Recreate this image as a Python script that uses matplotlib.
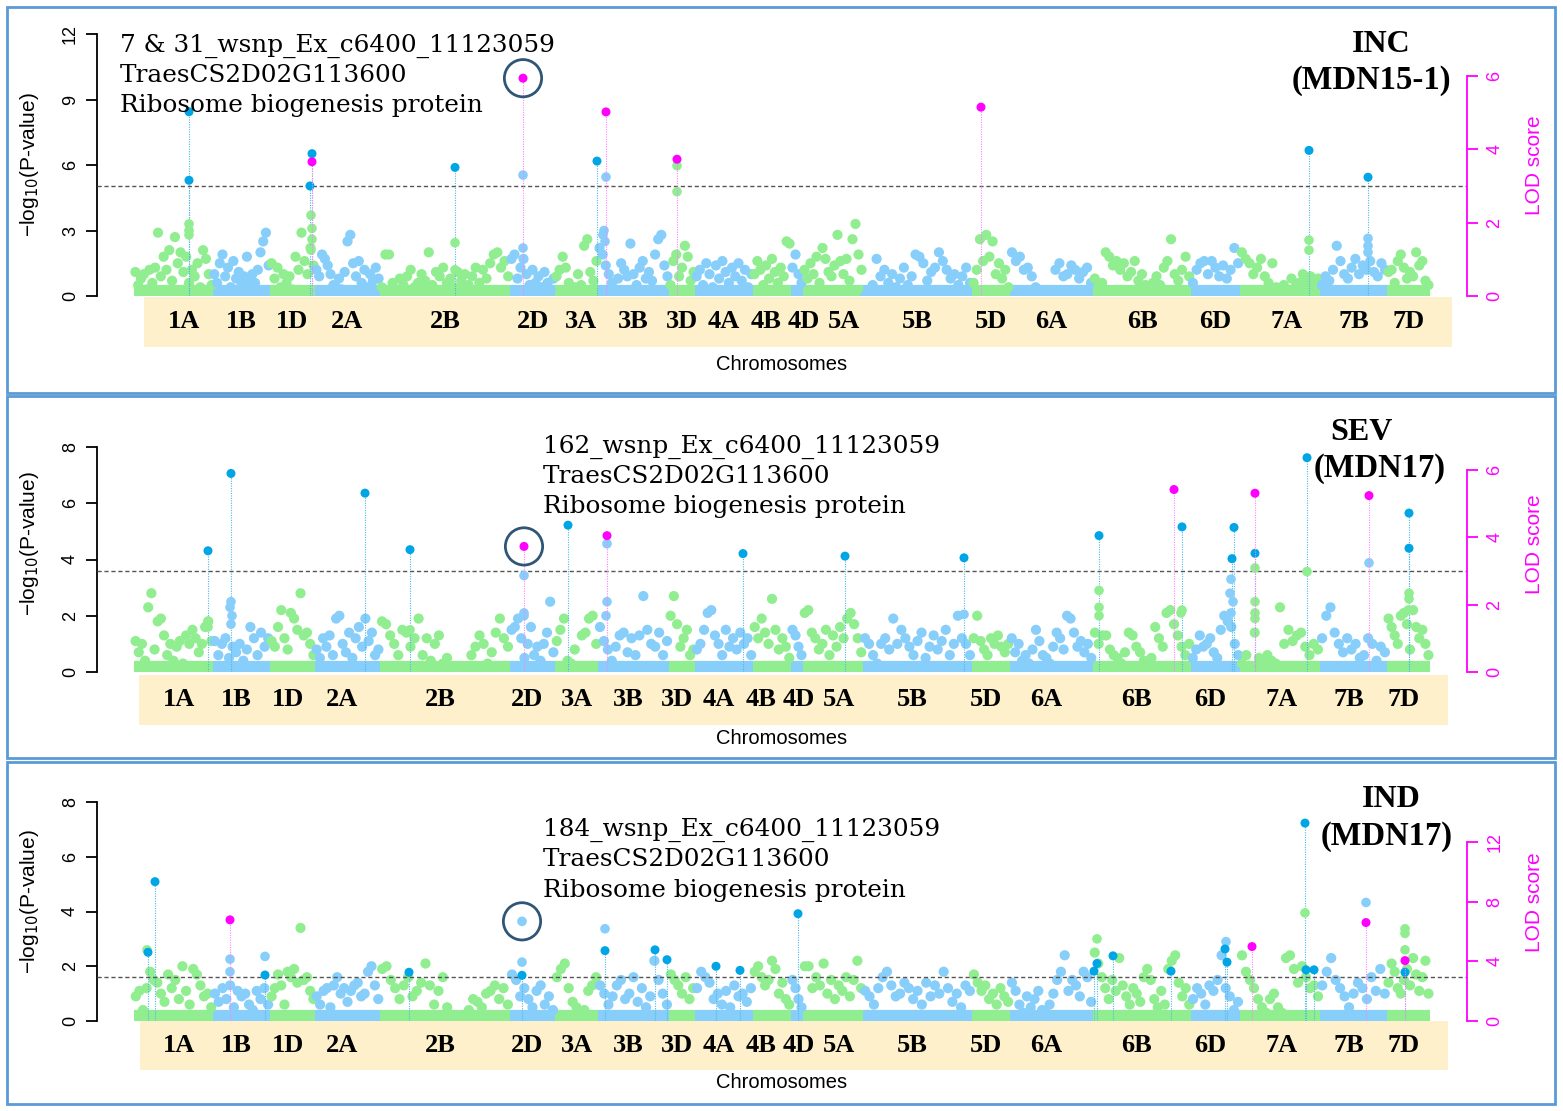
import matplotlib
matplotlib.use('Agg')
import matplotlib.pyplot as plt
import numpy as np
from matplotlib.patches import Rectangle

W, H = 1563, 1111
fig = plt.figure(figsize=(W / 100, H / 100), dpi=100)

# ---------------- data ----------------
chroms = ['1A', '1B', '1D', '2A', '2B', '2D', '3A', '3B', '3D', '4A', '4B', '4D',
          '5A', '5B', '5D', '6A', '6B', '6D', '7A', '7B', '7D']
chrom_len = [79, 57, 45, 65, 130, 45, 43, 71, 26, 58, 38, 12,
             60, 109, 38, 83, 98, 49, 80, 67, 43]

bg_inc = {
    '1A': [1.1, 0.5, 0.8, 1.0, 0.3, 1.2, 0.6, 1.3, 2.9, 0.9, 1.8, 1.2, 2.1, 0.7, 2.7, 1.5, 2.0, 1.1, 1.8, 0.6, 1.2, 0.9, 1.5, 0.4, 2.1, 1.7, 1.0, 0.5],
    '1B': [1.0, 0.6, 1.5, 1.9, 0.9, 1.3, 0.4, 1.6, 0.8, 1.1, 0.5, 0.9, 1.8, 0.7, 1.0, 0.6, 1.2, 2.0, 2.5, 2.9, 1.4],
    '1D': [1.5, 0.8, 1.3, 0.4, 1.0, 0.6, 0.9, 0.3, 1.8, 1.2, 2.9, 1.6, 1.0, 2.2, 1.4],
    '2A': [1.2, 0.9, 1.9, 1.7, 1.4, 1.0, 0.5, 0.4, 0.8, 0.3, 1.1, 2.5, 2.8, 1.5, 0.9, 1.6, 0.6, 1.2, 0.4, 1.0, 0.7, 1.3, 0.8],
    '2B': [0.4, 1.9, 1.9, 0.6, 0.3, 0.8, 0.5, 0.9, 1.2, 0.4, 0.6, 1.0, 0.7, 2.0, 0.5, 1.1, 0.9, 1.3, 0.6, 0.8, 0.4, 1.1, 0.7, 1.0, 0.5, 0.9, 1.3, 0.6, 1.2, 0.8, 1.5, 1.9, 2.0, 1.3, 1.6, 0.9],
    '2D': [1.7, 1.9, 0.8, 1.3, 1.7, 1.0, 0.5, 1.2, 0.6, 0.9, 0.4, 1.1, 0.6, 0.3, 0.8],
    '3A': [0.9, 1.2, 1.8, 1.3, 0.6, 0.3, 0.4, 1.0, 0.5, 2.3, 2.6, 1.1, 0.7, 1.6],
    '3B': [2.2, 1.9, 1.4, 1.0, 0.6, 0.3, 0.8, 1.5, 1.2, 0.9, 2.4, 1.0, 0.5, 1.3, 1.6, 0.8, 1.1, 0.7, 1.9, 2.6, 2.8, 1.4, 0.9],
    '3D': [0.5, 1.6, 1.9, 0.9, 1.3, 2.3, 1.8, 0.7, 1.1],
    '4A': [0.9, 1.2, 0.5, 1.5, 1.0, 0.4, 1.4, 0.8, 1.6, 1.1, 0.6, 1.3, 0.9, 1.5, 0.7, 1.2, 0.4, 1.0],
    '4B': [1.0, 1.6, 1.2, 0.5, 1.4, 0.8, 1.7, 1.1, 0.6, 1.3, 0.9, 2.5, 2.4],
    '4D': [1.3, 1.9, 1.0, 0.6],
    '5A': [1.2, 0.8, 1.5, 1.0, 1.8, 0.6, 2.2, 1.7, 1.1, 0.9, 1.4, 2.8, 1.6, 1.0, 1.7, 0.7, 2.6, 3.3, 1.9, 1.2],
    '5B': [0.0, 0.0, 0.5, 1.7, 0.9, 1.2, 0.6, 1.0, 0.4, 0.8, 1.3, 0.5, 0.9, 1.9, 1.8, 1.5, 0.7, 1.1, 1.3, 2.0, 1.6, 1.2, 0.8, 1.0, 0.5, 0.9, 1.3, 0.6],
    '5D': [0.6, 1.2, 2.6, 1.6, 2.8, 1.8, 2.5, 1.0, 1.5, 0.8, 1.2, 0.4],
    '6A': [2.0, 1.6, 1.8, 1.2, 1.3, 0.9, 0.4, 0.2, 0.0, 0.0, 0.0, 1.2, 1.5, 0.9, 1.0, 1.4, 1.2, 0.8, 1.1, 1.3, 0.6],
    '6B': [0.8, 0.4, 0.6, 2.0, 1.8, 1.4, 1.6, 1.2, 1.5, 0.9, 1.1, 1.6, 0.7, 1.0, 0.5, 0.3, 0.6, 0.9, 0.5, 1.3, 1.6, 2.6, 1.0, 0.7, 1.2, 1.8, 0.9],
    '6D': [0.6, 1.2, 1.5, 1.6, 1.0, 1.6, 1.3, 0.9, 1.4, 0.8, 1.2, 2.2, 1.5],
    '7A': [2.0, 1.7, 1.5, 1.0, 1.3, 1.7, 0.9, 0.6, 1.5, 0.4, 0.3, 0.5, 0.3, 0.8, 0.4, 0.6, 1.0, 0.7, 0.9, 0.5, 0.8],
    '7B': [0.5, 0.9, 0.7, 1.2, 2.3, 1.6, 1.0, 0.8, 1.3, 1.7, 1.0, 1.4, 1.2, 1.6, 1.1, 0.9, 1.5, 1.2],
    '7D': [1.1, 1.2, 0.6, 1.6, 1.9, 1.3, 0.8, 1.1, 0.9, 2.0, 1.4, 1.6, 0.7, 0.5],
}
bg_sev = {
    '1A': [1.1, 0.7, 1.0, 0.4, 2.3, 2.8, 0.8, 1.8, 1.9, 1.3, 0.6, 1.0, 0.4, 0.9, 1.1, 0.3, 1.3, 1.0, 1.5, 1.2, 0.7, 1.0, 1.6, 1.8, 1.1],
    '1B': [1.1, 0.6, 1.0, 1.2, 0.5, 0.9, 0.7, 1.0, 0.4, 0.8, 1.6, 1.2, 0.6, 1.4, 0.9, 1.2],
    '1D': [1.1, 0.9, 1.6, 2.2, 1.2, 0.8, 2.1, 1.9, 1.5, 2.8, 1.3, 1.4, 1.0, 0.6],
    '2A': [0.8, 0.5, 1.2, 0.9, 1.3, 0.6, 1.9, 2.0, 1.0, 0.7, 1.4, 0.5, 1.2, 1.6, 0.9, 1.9, 1.1, 1.4, 0.6, 0.8],
    '2B': [1.8, 1.7, 1.3, 1.0, 0.6, 1.5, 1.4, 0.9, 1.2, 1.9, 0.6, 1.2, 0.4, 1.0, 1.3, 0.3, 0.5, 0.0, 0.0, 0.0, 0.0, 0.0, 0.6, 0.9, 1.3, 1.0, 0.3, 0.7, 1.4, 1.9, 1.2, 0.9],
    '2D': [1.5, 1.6, 1.9, 1.2, 0.5, 1.0, 1.6, 0.6, 0.9, 0.4, 1.0, 1.4, 2.5, 0.7],
    '3A': [1.1, 1.5, 1.9, 0.4, 0.3, 0.8, 0.2, 1.3, 1.4, 1.9, 2.0, 1.0],
    '3B': [1.6, 1.1, 0.8, 0.4, 0.9, 1.3, 1.4, 0.7, 1.2, 0.6, 1.3, 2.7, 1.5, 1.0, 0.9, 1.4, 0.6, 1.1],
    '3D': [2.0, 2.7, 1.7, 0.9, 1.2, 1.5, 0.6, 0.8],
    '4A': [0.8, 1.0, 1.5, 2.1, 2.2, 1.3, 1.0, 0.6, 1.5, 0.9, 1.2, 0.8, 1.4, 1.0, 1.2, 0.6],
    '4B': [1.6, 1.2, 1.9, 1.4, 1.0, 2.6, 1.5, 0.8, 1.2, 0.9, 0.5],
    '4D': [1.5, 1.3, 0.9, 0.6],
    '5A': [2.1, 2.2, 1.4, 1.2, 0.8, 1.0, 1.5, 0.6, 1.3, 0.9, 1.6, 1.2, 1.9, 2.1, 1.7, 1.2, 0.7],
    '5B': [1.2, 1.0, 0.6, 0.3, 1.0, 1.2, 0.8, 1.9, 1.0, 1.5, 1.2, 0.9, 0.6, 1.1, 1.4, 0.5, 0.9, 1.3, 0.8, 1.1, 1.5, 0.6, 1.0, 2.0, 1.2, 1.0, 0.6],
    '5D': [1.2, 2.0, 1.1, 0.8, 0.6, 1.2, 1.0, 1.3, 0.9, 0.7, 1.0],
    '6A': [1.2, 0.7, 1.0, 0.4, 0.6, 0.3, 0.8, 1.5, 1.1, 0.6, 0.5, 0.3, 0.9, 1.4, 1.2, 0.8, 2.0, 1.9, 1.4, 0.9, 1.1, 0.7, 1.0, 0.5],
    '6B': [1.4, 1.0, 1.3, 1.3, 0.8, 0.6, 0.5, 0.3, 0.7, 1.4, 1.3, 0.9, 0.7, 0.4, 0.3, 0.5, 1.6, 1.2, 0.9, 2.1, 2.2, 1.7, 1.3, 0.9, 0.6, 1.0],
    '6D': [0.5, 0.8, 1.3, 0.9, 1.0, 1.2, 0.7, 0.5, 1.5, 2.0, 1.8, 1.6, 1.0, 0.6],
    '7A': [0.3, 0.6, 0.2, 1.4, 0.5, 0.3, 0.6, 0.4, 0.3, 2.3, 1.0, 1.5, 1.1, 1.3, 1.4, 0.9, 0.6, 1.0, 0.8],
    '7B': [1.2, 2.0, 2.3, 1.4, 1.0, 0.7, 1.2, 0.8, 1.0, 0.5, 0.6, 1.2, 1.0, 0.4, 0.9, 0.7],
    '7D': [1.9, 1.6, 1.3, 1.0, 2.0, 2.1, 1.7, 0.8, 2.2, 1.6, 1.2, 1.5, 1.0, 0.6],
}
bg_ind = {
    '1A': [0.9, 1.1, 0.4, 1.2, 1.8, 1.5, 1.4, 1.0, 0.7, 1.7, 1.2, 1.5, 0.8, 2.0, 1.1, 0.6, 1.9, 1.7, 1.3, 0.9, 1.0, 0.5],
    '1B': [1.0, 0.7, 1.2, 0.8, 1.3, 0.5, 1.1, 0.9, 1.0, 0.6, 0.4, 1.1, 0.8, 1.2, 0.6],
    '1D': [0.9, 1.2, 1.7, 1.3, 0.6, 1.8, 1.6, 1.9, 1.4, 3.4, 1.5, 1.6, 1.1, 0.8],
    '2A': [0.9, 0.6, 1.1, 1.2, 0.5, 1.3, 1.6, 1.0, 1.2, 0.7, 1.1, 1.3, 1.4, 0.9, 1.0, 1.8, 2.0, 1.3, 0.8],
    '2B': [1.9, 2.0, 1.5, 1.2, 0.8, 1.3, 1.6, 0.9, 1.1, 1.4, 2.1, 1.3, 0.6, 1.1, 1.6, 0.5, 0.2, 0.1, 0.0, 0.0, 0.4, 0.8, 0.7, 0.5, 1.0, 1.1, 1.3, 0.8, 1.2, 0.6],
    '2D': [1.7, 1.5, 0.9, 1.2, 0.8, 0.5, 1.1, 1.3, 0.6, 0.9, 0.4],
    '3A': [1.6, 1.9, 2.1, 1.2, 0.7, 0.5, 0.3, 0.4, 1.1, 1.3, 1.6],
    '3B': [1.3, 1.0, 0.6, 0.9, 1.3, 1.5, 0.8, 1.0, 1.6, 0.7, 1.2, 0.5, 0.9, 2.2, 1.5, 1.0, 0.6],
    '3D': [1.7, 1.5, 1.3, 1.0, 1.6, 0.8, 1.2],
    '4A': [1.2, 1.8, 1.6, 1.4, 0.8, 1.0, 0.6, 1.1, 0.5, 1.3, 0.9, 1.0, 0.7, 1.2],
    '4B': [1.8, 2.0, 1.6, 1.3, 1.5, 2.2, 1.9, 1.0, 1.4, 0.8, 0.6],
    '4D': [1.5, 1.2, 0.8, 0.5],
    '5A': [2.0, 2.0, 1.2, 1.6, 1.3, 2.1, 1.0, 1.5, 0.8, 1.3, 1.1, 1.6, 0.9, 1.5, 2.2, 1.2],
    '5B': [1.1, 0.9, 0.6, 1.2, 1.6, 1.8, 1.3, 0.9, 1.0, 1.4, 1.2, 0.8, 1.1, 0.6, 1.4, 0.9, 1.3, 1.0, 1.8, 1.2, 0.7, 1.0, 0.5, 1.3, 1.1],
    '5D': [1.7, 1.4, 1.1, 1.3, 0.8, 1.0, 0.6, 1.2, 0.9, 0.7],
    '6A': [1.4, 1.1, 0.6, 0.3, 0.9, 0.5, 0.8, 1.1, 0.4, 0.3, 0.6, 1.0, 1.5, 1.8, 2.4, 1.1, 1.5, 1.3, 0.9, 1.8, 1.6, 0.7],
    '6B': [2.5, 2.1, 1.6, 1.2, 0.8, 1.5, 1.1, 2.3, 1.3, 0.9, 0.6, 1.2, 1.0, 0.7, 1.6, 1.9, 1.5, 0.8, 0.5, 1.1, 0.6, 1.9, 2.2, 2.4, 1.4, 0.9, 1.2, 0.6],
    '6D': [0.8, 1.2, 1.0, 0.6, 1.3, 1.1, 1.5, 2.4, 1.2, 0.9, 0.4, 0.7],
    '7A': [2.4, 1.8, 1.5, 1.2, 0.8, 0.5, 0.3, 0.8, 1.0, 0.5, 0.3, 2.3, 2.4, 1.9, 1.4, 2.0, 1.6, 1.2, 1.3, 0.9],
    '7B': [1.3, 1.8, 2.3, 1.5, 1.2, 0.9, 0.5, 1.0, 1.4, 1.2, 0.8, 1.6, 1.1, 1.9, 1.0],
    '7D': [1.4, 2.1, 1.8, 1.2, 1.0, 1.5, 1.9, 1.3, 2.3, 1.7, 1.1, 1.6, 2.2, 1.0],
}

# (chromosome, position within chromosome, -log10(P), kind)
peaks_inc = [
    ('1A', 55, 8.44, 'sig'), ('1A', 55, 5.30, 'sig'), ('1A', 55, 3.3, 'bg'), ('1A', 55, 3.0, 'bg'), ('1A', 55, 2.8, 'bg'),
    ('1D', 42, 6.52, 'sig'), ('1D', 40, 5.04, 'sig'), ('1D', 41, 3.7, 'bg'), ('1D', 42, 3.1, 'bg'), ('1D', 42, 2.6, 'bg'), ('1D', 41, 2.1, 'bg'),
    ('2B', 75, 5.89, 'sig'), ('2B', 75, 2.44, 'bg'), ('2B', 75, 1.2, 'bg'),
    ('2D', 13, 5.54, 'bg'), ('2D', 13, 2.2, 'bg'),
    ('3A', 42, 6.18, 'sig'),
    ('3B', 8, 5.45, 'bg'), ('3B', 6, 3.0, 'bg'), ('3B', 5, 2.8, 'bg'), ('3B', 7, 2.5, 'bg'),
    ('3D', 8, 5.97, 'bg'), ('3D', 8, 4.78, 'bg'),
    ('7A', 69, 6.67, 'sig'), ('7A', 69, 2.56, 'bg'), ('7A', 69, 2.1, 'bg'),
    ('7B', 48, 5.44, 'sig'), ('7B', 48, 2.64, 'bg'), ('7B', 48, 2.3, 'bg'), ('7B', 48, 2.0, 'bg'),
]
peaks_sev = [
    ('1A', 74, 4.31, 'sig'), ('1A', 74, 1.8, 'bg'), ('1A', 74, 1.6, 'bg'),
    ('1B', 18, 7.06, 'sig'), ('1B', 18, 2.5, 'bg'), ('1B', 17, 2.3, 'bg'), ('1B', 19, 2.0, 'bg'), ('1B', 18, 1.7, 'bg'),
    ('2A', 50, 6.36, 'sig'),
    ('2B', 30, 4.35, 'sig'), ('2B', 30, 1.5, 'bg'),
    ('2D', 14, 3.43, 'bg'), ('2D', 14, 2.1, 'bg'), ('2D', 14, 2.0, 'bg'),
    ('3A', 13, 5.22, 'sig'),
    ('3B', 9, 4.56, 'bg'), ('3B', 9, 2.5, 'bg'), ('3B', 8, 2.0, 'bg'),
    ('4A', 48, 4.21, 'sig'),
    ('5A', 42, 4.12, 'sig'),
    ('5B', 101, 4.06, 'sig'), ('5B', 101, 2.05, 'bg'),
    ('6B', 6, 4.85, 'sig'), ('6B', 6, 2.9, 'bg'), ('6B', 6, 2.3, 'bg'), ('6B', 6, 2.0, 'bg'),
    ('6B', 89, 5.16, 'sig'), ('6B', 89, 2.2, 'bg'), ('6B', 88, 2.1, 'bg'),
    ('6D', 43, 5.14, 'sig'), ('6D', 41, 4.03, 'sig'), ('6D', 40, 3.3, 'bg'), ('6D', 39, 2.8, 'bg'), ('6D', 42, 2.5, 'bg'), ('6D', 40, 2.1, 'bg'),
    ('7A', 15, 4.22, 'sig'), ('7A', 15, 3.7, 'bg'), ('7A', 15, 2.5, 'bg'), ('7A', 15, 2.1, 'bg'), ('7A', 15, 1.9, 'bg'),
    ('7A', 67, 7.62, 'sig'), ('7A', 67, 3.57, 'bg'),
    ('7B', 49, 3.88, 'bg'),
    ('7D', 22, 5.65, 'sig'), ('7D', 22, 4.40, 'sig'), ('7D', 22, 2.8, 'bg'), ('7D', 22, 2.6, 'bg'), ('7D', 21, 2.2, 'bg'),
]
peaks_ind = [
    ('1A', 14, 2.51, 'sig'), ('1A', 13, 2.6, 'bg'), ('1A', 21, 5.09, 'sig'),
    ('1B', 17, 2.26, 'bg'), ('1B', 17, 1.8, 'bg'),
    ('1B', 52, 1.68, 'sig'), ('1B', 52, 2.36, 'bg'),
    ('2B', 29, 1.78, 'sig'),
    ('2D', 12, 3.64, 'bg'), ('2D', 12, 2.15, 'bg'), ('2D', 12, 1.67, 'sig'),
    ('3B', 7, 3.37, 'bg'), ('3B', 7, 2.57, 'sig'),
    ('3B', 57, 2.60, 'sig'), ('3B', 69, 2.24, 'sig'),
    ('4A', 21, 2.0, 'sig'), ('4A', 45, 1.85, 'sig'),
    ('4D', 7, 3.92, 'sig'),
    ('6B', 1, 1.82, 'sig'), ('6B', 4, 2.10, 'sig'), ('6B', 4, 3.0, 'bg'), ('6B', 20, 2.38, 'sig'), ('6B', 78, 1.82, 'sig'),
    ('6D', 34, 2.63, 'sig'), ('6D', 36, 2.15, 'sig'), ('6D', 35, 2.9, 'bg'),
    ('7A', 65, 7.23, 'sig'), ('7A', 65, 3.95, 'bg'), ('7A', 66, 1.87, 'sig'), ('7A', 74, 1.87, 'sig'),
    ('7B', 46, 4.33, 'bg'),
    ('7D', 18, 1.78, 'sig'), ('7D', 18, 3.37, 'bg'), ('7D', 18, 3.2, 'bg'), ('7D', 18, 2.6, 'bg'),
]
# QTL peaks: (chromosome, position, LOD score)
qtl_inc = [('1D', 42, 3.66), ('2D', 13, 5.94), ('3B', 8, 5.02), ('3D', 8, 3.73), ('5D', 9, 5.15)]
qtl_sev = [('2D', 14, 3.73), ('3B', 9, 4.05), ('6B', 81, 5.42), ('7A', 15, 5.31), ('7B', 49, 5.24)]
qtl_ind = [('1B', 17, 6.78), ('7A', 12, 4.99), ('7B', 46, 6.6), ('7D', 18, 4.05)]

thresholds = [5.04, 3.59, 1.61]
traits = ['INC', 'SEV', 'IND']
envs = ['(MDN15-1)', '(MDN17)', '(MDN17)']
markers = ['7 & 31_wsnp_Ex_c6400_11123059', '162_wsnp_Ex_c6400_11123059', '184_wsnp_Ex_c6400_11123059']
gene = 'TraesCS2D02G113600'
protein = 'Ribosome biogenesis protein'
left_ticks = [[0, 3, 6, 9, 12], [0, 2, 4, 6, 8], [0, 2, 4, 6, 8]]
lod_ticks = [[0, 2, 4, 6], [0, 2, 4, 6], [0, 4, 8, 12]]
# circled marker per panel: (chromosome, position, value, axis)
circled = [('2D', 13, 5.94, 'lod'), ('2D', 14, 3.73, 'lod'), ('2D', 12, 3.64, 'p')]

# ---------------- layout (pixels) ----------------
panels = [
    dict(box=(7, 7, 1555, 393), top=18, y0=296, ytp=34, lodtp=76,
         band=(144, 297, 1452, 347), shift=0, xlab_y=364, ylab_y=165,
         txt_x=120, txt_y=(52, 82, 112), t1=(1381, 52), t2=(1371, 89)),
    dict(box=(7, 396, 1555, 758), top=405, y0=672, ytp=447, lodtp=470,
         band=(139, 675, 1448, 725), shift=-5, xlab_y=738, ylab_y=544,
         txt_x=543, txt_y=(453, 483, 513), t1=(1361, 440), t2=(1380, 477)),
    dict(box=(7, 762, 1555, 1104), top=770, y0=1021, ytp=802, lodtp=842,
         band=(140, 1021, 1448, 1070), shift=-5, xlab_y=1083, ylab_y=902,
         txt_x=543, txt_y=(836, 866, 897), t1=(1391, 807), t2=(1387, 845)),
]
AX_L, AX_R = 97, 1467
DATA_L = 134  # pixel where genome starts
label_nudge = {'1A': 11, '3A': 5, '4B': -6, '4D': 7, '5A': 11, '7A': 7}

GREEN = '#90EE90'
BLUE = '#87CEFA'
SIG = '#00A5E6'
SIGLINE = '#4DB8EA'
MAG = '#FF00FF'
MAGLINE = '#FF80FF'
CIRC = '#2F5677'

starts = np.concatenate([[0], np.cumsum(chrom_len)[:-1]])
cidx = {c: i for i, c in enumerate(chroms)}


def gx(c, p):
    return starts[cidx[c]] + p


def fx(px):
    return px / W


def fy(py):
    return 1 - py / H


bgs = [bg_inc, bg_sev, bg_ind]
peaks_all = [peaks_inc, peaks_sev, peaks_ind]
qtls = [qtl_inc, qtl_sev, qtl_ind]

for k, L in enumerate(panels):
    # frame
    x0, y0b, x1, y1b = L['box']
    fig.add_artist(Rectangle((fx(x0), fy(y1b)), fx(x1) - fx(x0), fy(y0b) - fy(y1b),
                             transform=fig.transFigure, fill=False,
                             edgecolor='#5B9BD5', lw=2.0, zorder=0))
    # beige band
    bx0, by0, bx1, by1 = L['band']
    fig.add_artist(Rectangle((fx(bx0), fy(by1)), fx(bx1) - fx(bx0), fy(by0) - fy(by1),
                             transform=fig.transFigure, facecolor='#FDF0CB',
                             edgecolor='none', zorder=0))

    ax = fig.add_axes([fx(AX_L), fy(L['y0']), fx(AX_R) - fx(AX_L), (L['y0'] - L['top']) / H])
    ax.patch.set_alpha(0)
    ymax_tick = left_ticks[k][-1]
    ytop = ymax_tick * (L['y0'] - L['top']) / (L['y0'] - L['ytp'])
    ax.set_ylim(0, ytop)
    ax.set_xlim(AX_L - DATA_L, AX_R - DATA_L)

    bg = bgs[k]
    for i, c in enumerate(chroms):
        col = GREEN if i % 2 == 0 else BLUE
        vals = np.array(bg[c])
        n = len(vals)
        xs = starts[i] + (np.arange(n) + 0.5) / n * chrom_len[i]
        ax.hlines(0, starts[i], starts[i] + chrom_len[i], colors=col, lw=16, zorder=1)
        ax.scatter(xs, vals, s=54, color=col, edgecolors='none', zorder=2)

    # peak markers
    for c, p, v, kind in peaks_all[k]:
        col = GREEN if cidx[c] % 2 == 0 else BLUE
        x = gx(c, p)
        if kind == 'sig':
            ax.vlines(x, 0, v, colors=SIGLINE, linestyles=(0, (1, 1.2)), lw=0.8, zorder=3)
            ax.scatter([x], [v], s=42, color=SIG, edgecolors='none', zorder=5)
        else:
            ax.scatter([x], [v], s=48, color=col, edgecolors='none', zorder=4)

    ax.axhline(thresholds[k], color='#555555', ls=(0, (3, 2)), lw=1.0, zorder=3)

    for s in ['top', 'right', 'bottom']:
        ax.spines[s].set_visible(False)
    ax.spines['left'].set_bounds(0, ymax_tick)
    ax.spines['left'].set_linewidth(1.3)
    ax.set_xticks([])
    ax.set_yticks(left_ticks[k])
    ax.tick_params(axis='y', length=8, width=1.3, pad=5, labelsize=13, labelrotation=90)
    for t in ax.get_yticklabels():
        t.set_fontfamily('Liberation Sans')
        t.set_va('center')

    # LOD axis
    ax2 = ax.twinx()
    lmax = lod_ticks[k][-1]
    ltop = lmax * (L['y0'] - L['top']) / (L['y0'] - L['lodtp'])
    ax2.set_ylim(0, ltop)
    ax2.set_xlim(ax.get_xlim())
    for s in ['top', 'left', 'bottom']:
        ax2.spines[s].set_visible(False)
    ax2.spines['right'].set_bounds(0, lmax)
    ax2.spines['right'].set_color(MAG)
    ax2.spines['right'].set_linewidth(1.3)
    ax2.set_yticks(lod_ticks[k])
    ax2.tick_params(axis='y', colors=MAG, length=8, width=1.3, pad=6, labelsize=13, labelrotation=90)
    for t in ax2.get_yticklabels():
        t.set_fontfamily('Liberation Sans')
        t.set_va('center')
    for c, p, v in qtls[k]:
        x = gx(c, p)
        ax2.vlines(x, 0, v, colors=MAGLINE, linestyles=(0, (1, 1.2)), lw=0.8, zorder=3)
        ax2.scatter([x], [v], s=42, color=MAG, edgecolors='none', zorder=6)

    cc, cp, cv, cax = circled[k]
    target = ax2 if cax == 'lod' else ax
    target.scatter([gx(cc, cp)], [cv], s=720, facecolors='none', edgecolors=CIRC,
                   linewidths=2.0, zorder=7)

    # chromosome labels
    by_mid = (by0 + by1) / 2
    for i, c in enumerate(chroms):
        xc = starts[i] + chrom_len[i] / 2 + label_nudge.get(c, 0) + L['shift']
        xpix = DATA_L + xc
        fig.text(fx(xpix), fy(by_mid), c, ha='center', va='center',
                 fontsize=19, fontweight='bold', family='Liberation Serif')

    fig.text(fx(782), fy(L['xlab_y']), 'Chromosomes', ha='center', va='center',
             fontsize=14.5, family='Liberation Sans')
    fig.text(fx(30), fy(L['ylab_y']), '\u2212log$_{10}$(P-value)', ha='center', va='center',
             rotation=90, fontsize=15, family='Liberation Sans')
    fig.text(fx(1535), fy(L['ylab_y']), 'LOD score', ha='center', va='center',
             rotation=90, fontsize=15, family='Liberation Sans', color=MAG)

    # annotation text
    for line, yb in zip([markers[k], gene, protein], L['txt_y']):
        fig.text(fx(L['txt_x']), fy(yb), line, ha='left', va='baseline',
                 fontsize=17.8, family='DejaVu Serif')
    fig.text(fx(L['t1'][0]), fy(L['t1'][1]), traits[k], ha='center', va='baseline',
             fontsize=23, fontweight='bold', family='Liberation Serif')
    fig.text(fx(L['t2'][0]), fy(L['t2'][1]), envs[k], ha='center', va='baseline',
             fontsize=23.5, fontweight='bold', family='Liberation Serif')

fig.savefig('out.png', dpi=100)
